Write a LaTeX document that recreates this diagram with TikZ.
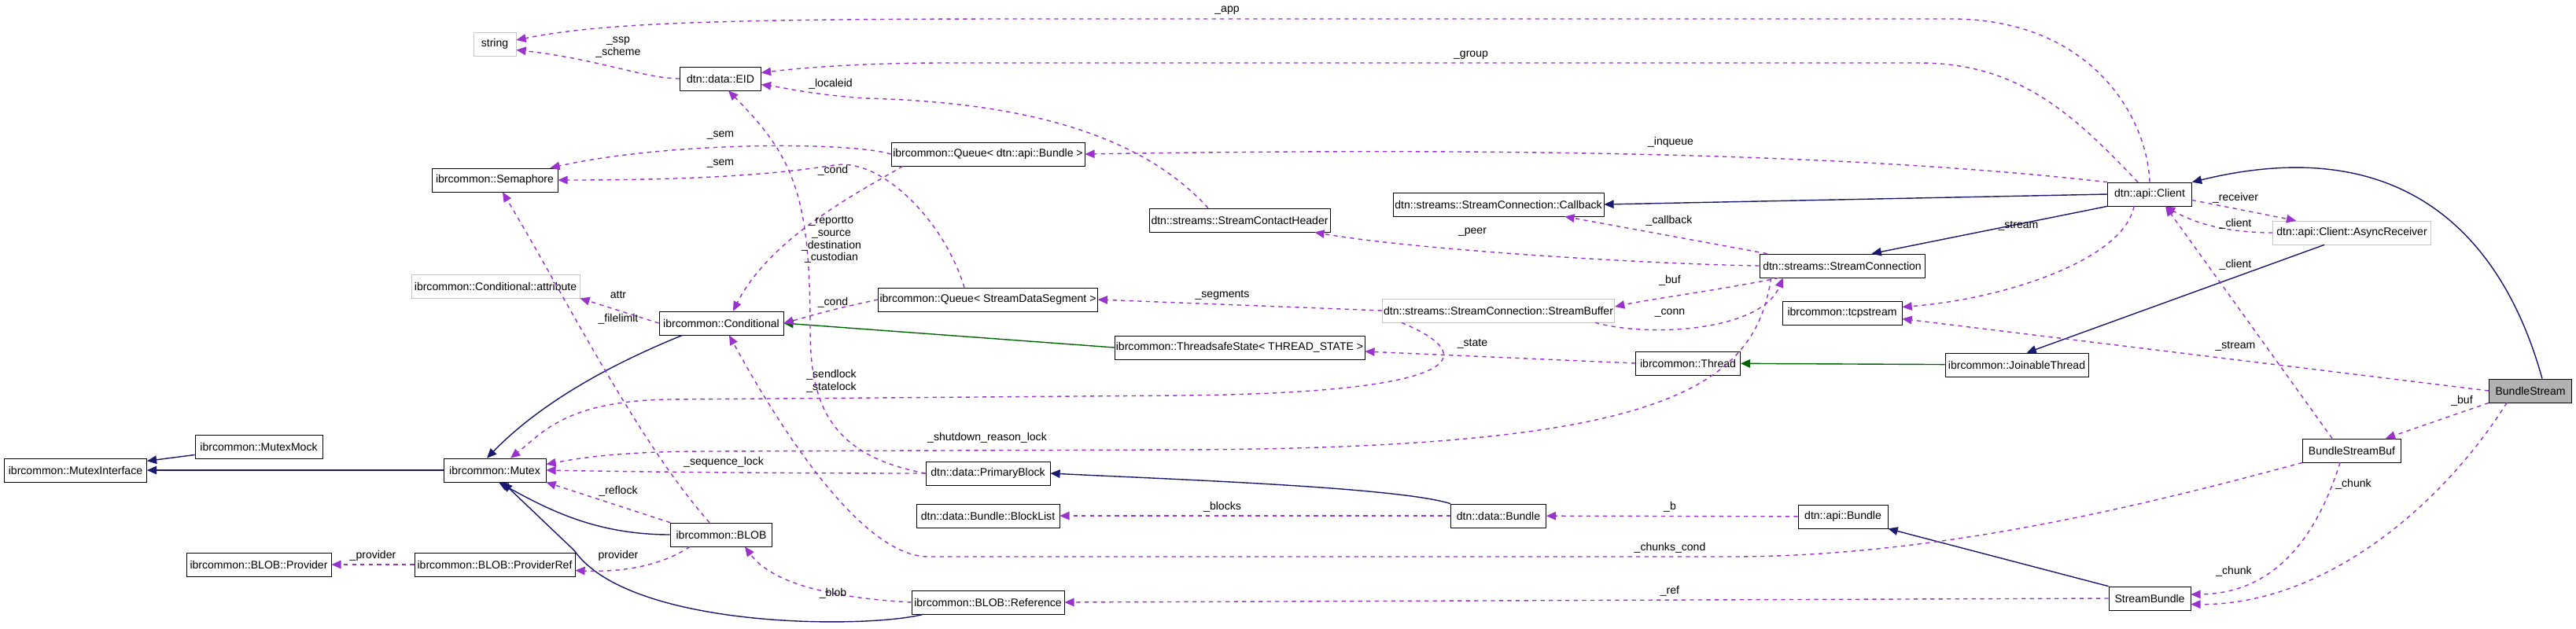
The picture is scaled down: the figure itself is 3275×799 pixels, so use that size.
\documentclass[tikz,border=0pt]{standalone}
\usepackage{fontspec}
\setmainfont{Liberation Sans}
\usetikzlibrary{arrows.meta}
\definecolor{usecol}{HTML}{9A32CD}
\definecolor{inhcol}{HTML}{191970}
\definecolor{tplcol}{HTML}{006400}
\tikzset{
  cls/.style={draw, fill=white, minimum height=0.6cm, inner sep=1pt, font=\fontsize{8}{9}\selectfont},
  ext/.style={cls, draw=gray!45},
  lbl/.style={inner sep=0pt, font=\fontsize{8}{9}\selectfont, align=center},
  uses/.style={draw=usecol, dashed, thick, -{Triangle[length=7pt,width=6pt]}},
  inh/.style={draw=inhcol, thick, -{Triangle[length=7pt,width=6pt]}},
  tpl/.style={draw=tplcol, thick, -{Triangle[length=7pt,width=6pt]}}
}
\begin{document}
\begin{tikzpicture}[x=0.02cm,y=-0.02cm]
\useasboundingbox (0,0) rectangle (3275,799);
% classes
\node[ext] (string) at (629,56) [minimum width=1.08cm] {string};
\node[cls] (eid) at (916,100) [minimum width=2.06cm] {dtn::data::EID};
\node[cls] (sem) at (629,229) [minimum width=3.2cm] {ibrcommon::Semaphore};
\node[ext] (attr) at (630,364) [minimum width=4.28cm] {ibrcommon::Conditional::attribute};
\node[cls] (cond) at (917,411) [minimum width=3.16cm] {ibrcommon::Conditional};
\node[cls] (minterface) at (96,598) [minimum width=3.62cm] {ibrcommon::MutexInterface};
\node[cls] (mmock) at (329,568) [minimum width=3.24cm] {ibrcommon::MutexMock};
\node[cls] (mutex) at (629,598) [minimum width=2.6cm] {ibrcommon::Mutex};
\node[cls] (blob) at (917,680) [minimum width=2.58cm] {ibrcommon::BLOB};
\node[cls] (provider) at (329,718) [minimum width=3.68cm] {ibrcommon::BLOB::Provider};
\node[cls] (provref) at (629,718) [minimum width=4.08cm] {ibrcommon::BLOB::ProviderRef};
\node[cls] (qab) at (1256,196) [minimum width=4.92cm] {ibrcommon::Queue< dtn::api::Bundle >};
\node[cls] (qsds) at (1256,381) [minimum width=5.52cm] {ibrcommon::Queue< StreamDataSegment >};
\node[cls] (sch) at (1576,280) [minimum width=4.6cm] {dtn::streams::StreamContactHeader};
\node[cls] (tss) at (1576,442) [minimum width=6.3cm] {ibrcommon::ThreadsafeState< THREAD\_STATE >};
\node[cls] (pblock) at (1256,602) [minimum width=3.16cm] {dtn::data::PrimaryBlock};
\node[cls] (blocklist) at (1256,656) [minimum width=3.64cm] {dtn::data::Bundle::BlockList};
\node[cls] (ref) at (1256,766) [minimum width=3.88cm] {ibrcommon::BLOB::Reference};
\node[cls] (callback) at (1905,260) [minimum width=5.36cm] {dtn::streams::StreamConnection::Callback};
\node[ext] (sbuf) at (1905,395) [minimum width=5.88cm] {dtn::streams::StreamConnection::StreamBuffer};
\node[cls] (dbundle) at (1905,656) [minimum width=2.42cm] {dtn::data::Bundle};
\node[cls] (thread) at (2146,462) [minimum width=2.66cm] {ibrcommon::Thread};
\node[cls] (sconn) at (2342,338) [minimum width=4.2cm] {dtn::streams::StreamConnection};
\node[cls] (tcp) at (2342,398) [minimum width=3.04cm] {ibrcommon::tcpstream};
\node[cls] (abundle) at (2343,657) [minimum width=2.28cm] {dtn::api::Bundle};
\node[cls] (jthread) at (2564,464) [minimum width=3.64cm] {ibrcommon::JoinableThread};
\node[cls] (client) at (2733,247) [minimum width=2.14cm] {dtn::api::Client};
\node[cls] (sbundle) at (2733,761) [minimum width=2.08cm] {StreamBundle};
\node[ext] (async) at (2990,296) [minimum width=4.02cm] {dtn::api::Client::AsyncReceiver};
\node[cls] (bsb) at (2990,573) [minimum width=2.5cm] {BundleStreamBuf};
\node[cls, fill=gray!60] (bstream) at (3217,497) [minimum width=2.1cm] {BundleStream};
% inheritance
\draw[inh] (mmock) -- (minterface);
\draw[inh] (mutex) -- (minterface);
\draw[inh] ([xshift=0.6cm]cond.south west) .. controls (760,470) and (680,520) .. ([xshift=-0.2cm]mutex.north);
\draw[inh] (blob.west) .. controls (760,680) and (700,650) .. ([xshift=0.1cm]mutex.south);
\draw[inh] ([xshift=0.3cm]ref.south west) .. controls (1100,800) and (800,800) .. (730,700) -- ([xshift=0.2cm]mutex.south);
\draw[inh] (dbundle.north west) .. controls (1780,620) and (1500,610) .. (pblock.east);
\draw[inh] (sbundle.north west) -- (abundle.south east);
\draw[inh] (client.west) -- (callback.east);
\draw[inh] (client.south west) -- ([xshift=0.75cm]sconn.north);
\draw[inh] ([xshift=-0.7cm]async.south) -- ([xshift=0.25cm]jthread.north);
\draw[inh] ([xshift=0.3cm]bstream.north) .. controls (3190,330) and (3080,160) .. (client.north east);
\draw[tpl] (jthread) -- (thread);
\draw[tpl] (tss.west) -- (cond.east);
% members
\draw[uses] (client.north) .. controls (2730,150) and (2660,24) .. (2480,24) -- (1300,24) .. controls (900,24) and (760,30) .. ([yshift=0.1cm]string.east);
\draw[uses] ([xshift=-0.3cm]client.north) .. controls (2640,150) and (2570,80) .. (2440,80) -- (1200,80) .. controls (1100,80) and (1020,86) .. ([yshift=0.15cm]eid.east);
\draw[uses] ([xshift=-0.8cm]sch.north) .. controls (1450,170) and (1300,130) .. (1100,125) .. controls (1030,120) and (1000,112) .. ([yshift=-0.15cm]eid.east);
\draw[uses] (eid.west) .. controls (820,100) and (760,75) .. ([yshift=-0.15cm]string.east);
\draw[uses] (client.north west) .. controls (2400,200) and (2000,186) .. (qab.east);
\draw[uses] (qab.west) .. controls (1080,180) and (850,180) .. ([xshift=-0.2cm]sem.north east);
\draw[uses] ([xshift=-0.6cm]qsds.north) .. controls (1200,280) and (1120,200) .. (1060,210) .. controls (950,228) and (800,229) .. (sem.east);
\draw[uses] ([xshift=0.3cm]qab.south west) .. controls (1100,240) and (980,300) .. ([xshift=0.3cm]cond.north);
\draw[uses] (qsds.west) .. controls (1050,395) and (1030,402) .. (cond.east);
\draw[uses] (pblock.west) .. controls (1060,580) and (1030,520) .. (1030,420) .. controls (1030,250) and (1010,200) .. ([xshift=0.2cm]eid.south);
\draw[uses] (cond.west) -- (attr.south east);
\draw[uses] ([xshift=-0.3cm]blob.north) .. controls (810,560) and (720,380) .. ([xshift=0.2cm]sem.south);
\draw[uses] ([xshift=0.5cm]sbuf.south west) .. controls (1900,460) and (1830,500) .. (1500,503) -- (850,508) .. controls (720,510) and (690,550) .. ([xshift=0.4cm]mutex.north);
\draw[uses] ([xshift=0.3cm]sconn.south west) .. controls (2230,500) and (2100,570) .. (1500,572) -- (900,574) .. controls (780,574) and (730,584) .. ([yshift=0.15cm]mutex.east);
\draw[uses] (pblock.west) .. controls (1000,602) and (800,600) .. (mutex.east);
\draw[uses] (blob.north west) -- (mutex.south east);
\draw[uses] ([xshift=-0.8cm]blob.south) .. controls (840,720) and (790,728) .. ([yshift=-0.15cm]provref.east);
\draw[uses] (provref) -- (provider);
\draw[uses] (ref.west) .. controls (1050,760) and (980,740) .. ([xshift=0.6cm]blob.south);
\draw[uses] (dbundle) -- (blocklist);
\draw[uses] (abundle) -- (dbundle);
\draw[uses] (bsb.south west) .. controls (2700,650) and (2450,708) .. (2200,708) -- (1180,708) .. controls (1100,708) and (1000,560) .. ([xshift=0.2cm]cond.south);
\draw[uses] (sbundle.west) -- (ref.east);
\draw[uses] (sconn.west) .. controls (2100,336) and (1800,318) .. ([xshift=-0.4cm]sch.south east);
\draw[uses] ([xshift=0.2cm]sconn.north west) -- ([xshift=-1.0cm]callback.south east);
\draw[uses] (sbuf.west) -- (qsds.east);
\draw[uses] ([xshift=0.5cm]sconn.south west) .. controls (2180,370) and (2100,380) .. ([yshift=0.1cm]sbuf.east);
\draw[uses] ([xshift=-0.5cm]sbuf.south east) .. controls (2100,430) and (2240,420) .. ([xshift=0.6cm]sconn.south west);
\draw[uses] (thread.west) -- ([yshift=-0.1cm]tss.east);
\draw[uses] ([xshift=-0.4cm]client.south) .. controls (2700,330) and (2550,380) .. ([yshift=0.15cm]tcp.east);
\draw[uses] ([yshift=-0.15cm]client.east) -- ([xshift=0.6cm]async.north west);
\draw[uses] (async.west) .. controls (2850,296) and (2800,290) .. ([xshift=0.4cm]client.south);
\draw[uses] ([xshift=-0.5cm]bsb.north) -- ([xshift=0.4cm]client.south);
\draw[uses] (bstream.west) -- ([yshift=-0.15cm]tcp.east);
\draw[uses] (bstream.south west) -- ([xshift=-0.4cm]bsb.north east);
\draw[uses] ([xshift=-0.3cm]bsb.south) .. controls (2940,700) and (2880,755) .. ([yshift=0.1cm]sbundle.east);
\draw[uses] ([xshift=-0.6cm]bstream.south) .. controls (3100,650) and (2950,770) .. ([yshift=-0.15cm]sbundle.east);
% labels
\node[lbl] (lapp) at (1560,13) {\_app};
\node[lbl] (lgroup) at (1870,70) {\_group};
\node[lbl] (llocal) at (1056,107) {\_localeid};
\node[lbl] (lssp) at (786,60) {\_ssp\\\_scheme};
\node[lbl] (linq) at (2124,181) {\_inqueue};
\node[lbl] (lsema) at (916,172) {\_sem};
\node[lbl] (lsemb) at (916,208) {\_sem};
\node[lbl] (lconda) at (1059,217) {\_cond};
\node[lbl] (lcondb) at (1059,385) {\_cond};
\node[lbl] (lpb) at (1057,305) {\_reportto\\\_source\\\_destination\\\_custodian};
\node[lbl] (lattr) at (786,375) {attr};
\node[lbl] (lfile) at (786,406) {\_filelimit};
\node[lbl] (lsend) at (1057,485) {\_sendlock\\\_statelock};
\node[lbl] (lshut) at (1255,557) {\_shutdown\_reason\_lock};
\node[lbl] (lseq) at (920,588) {\_sequence\_lock};
\node[lbl] (lref) at (786,625) {\_reflock};
\node[lbl] (lprov) at (786,707) {provider};
\node[lbl] (lprovb) at (474,707) {\_provider};
\node[lbl] (lblob) at (1059,755) {\_blob};
\node[lbl] (lblocks) at (1554,645) {\_blocks};
\node[lbl] (lb) at (2123,645) {\_b};
\node[lbl] (lcc) at (2123,697) {\_chunks\_cond};
\node[lbl] (lrf) at (2123,752) {\_ref};
\node[lbl] (lpeer) at (1872,295) {\_peer};
\node[lbl] (lcb) at (2122,281) {\_callback};
\node[lbl] (lseg) at (1554,375) {\_segments};
\node[lbl] (lbuf) at (2123,357) {\_buf};
\node[lbl] (lconn) at (2123,398) {\_conn};
\node[lbl] (lstate) at (1872,437) {\_state};
\node[lbl] (lstr) at (2566,287) {\_stream};
\node[lbl] (lrec) at (2842,252) {\_receiver};
\node[lbl] (lcla) at (2842,285) {\_client};
\node[lbl] (lclb) at (2842,337) {\_client};
\node[lbl] (lstrb) at (2842,440) {\_stream};
\node[lbl] (lbufb) at (3130,510) {\_buf};
\node[lbl] (lchka) at (2992,616) {\_chunk};
\node[lbl] (lchkb) at (2840,727) {\_chunk};
\end{tikzpicture}
\end{document}
